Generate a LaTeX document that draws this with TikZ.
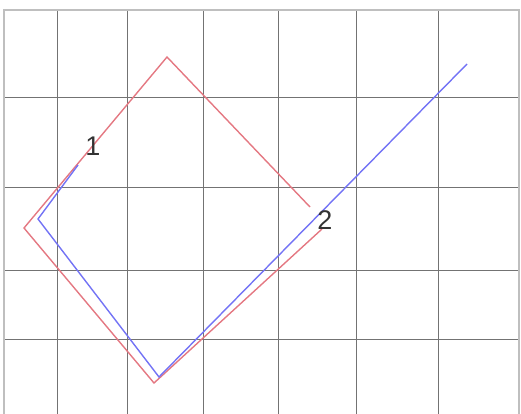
\documentclass[tikz,border=0pt]{standalone}
\usepackage{fontspec}
\setmainfont{Liberation Sans}
\definecolor{redc}{RGB}{228,120,130}
\definecolor{bluec}{RGB}{115,115,245}
\begin{document}
\begin{tikzpicture}[x=1pt,y=-1pt,
  gridline/.style={draw=black!55,line width=1pt},
  borderline/.style={draw=black!25,line width=1.2pt},
  redline/.style={draw=redc,line width=1.4pt,line join=miter},
  blueline/.style={draw=bluec,line width=1.4pt,line join=miter},
  lbl/.style={font=\fontsize{27}{27}\selectfont,text=black!80,inner sep=0pt}]
\useasboundingbox (0,0) rectangle (521,414);
% grid
\foreach \x in {57,127,203,278,356,438} \draw[gridline] (\x,10) -- (\x,414);
\foreach \y in {98,187,270,339} \draw[gridline] (4,\y) -- (519,\y);
\draw[borderline] (4,414) -- (4,10) -- (519,10) -- (519,414);
% red path
\coordinate (r0) at (310,207);
\coordinate (r1) at (167,57);
\coordinate (r2) at (24,228);
\coordinate (r3) at (154,383);
\coordinate (r4) at (322,229);
\draw[redline] (r0) -- (r1) -- (r2) -- (r3) -- (r4);
% blue path
\coordinate (b0) at (78,165);
\coordinate (b1) at (38,219);
\coordinate (b2) at (159,377);
\coordinate (b3) at (467,64);
\draw[blueline] (b0) -- (b1) -- (b2) -- (b3);
% labels
\node[lbl] (l1) at (93,146) {1};
\node[lbl] (l2) at (325,220) {2};
\end{tikzpicture}
\end{document}
